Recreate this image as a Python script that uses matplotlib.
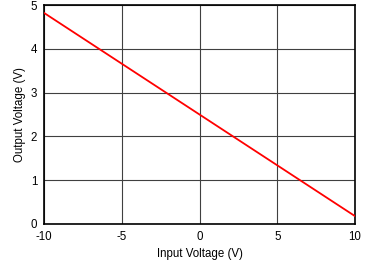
import matplotlib
matplotlib.use("Agg")
import matplotlib.pyplot as plt

input_v = [-10, -5, 0, 5, 10]
output_v = [4.82, 3.66, 2.5, 1.34, 0.18]
x_ticks = [-10, -5, 0, 5, 10]
y_ticks = [0, 1, 2, 3, 4, 5]

plt.rcParams['font.family'] = ['Liberation Sans', 'DejaVu Sans']
plt.rcParams['axes.unicode_minus'] = False
fig = plt.figure(figsize=(3.69, 2.65), dpi=100)
ax = fig.add_axes([44/369, 1-224/265, (355-44)/369, (224-5)/265])
ax.plot(input_v, output_v, color='#ff0000', lw=1.3, zorder=3)
ax.set_xlim(-10, 10)
ax.set_ylim(0, 5)
ax.set_xticks(x_ticks)
ax.set_yticks(y_ticks)
ax.grid(True, color='#404040', lw=0.8)
for s in ax.spines.values():
    s.set_linewidth(1.2)
    s.set_color('black')
ax.tick_params(length=0, labelsize=8.3, pad=5)
ax.set_xlabel('Input Voltage (V)', fontsize=8.3, labelpad=4)
ax.set_ylabel('Output Voltage (V)', fontsize=8.3, labelpad=3)
fig.savefig('out.png', dpi=100)
